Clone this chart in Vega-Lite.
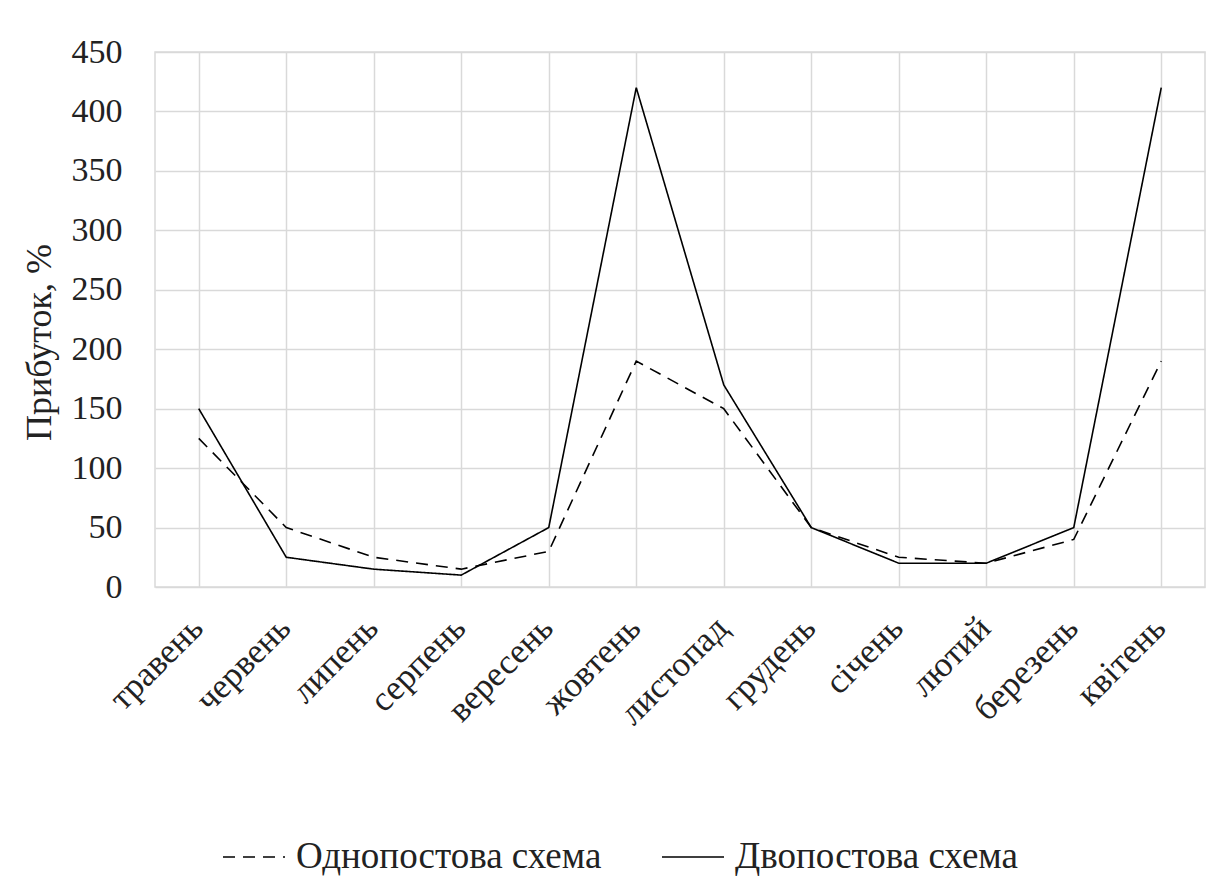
{
  "$schema": "https://vega.github.io/schema/vega-lite/v6.json",
  "width": 1050,
  "height": 535,
  "autosize": "none",
  "padding": {"left": 155, "top": 52, "right": 2, "bottom": 290},
  "background": "white",
  "config": {
    "font": "Liberation Serif",
    "view": {"stroke": "#d9d9d9", "strokeWidth": 1.5}
  },
  "data": {
    "values": [
      {"month": "травень", "scheme": "Однопостова схема", "profit": 125},
      {"month": "червень", "scheme": "Однопостова схема", "profit": 50},
      {"month": "липень", "scheme": "Однопостова схема", "profit": 25},
      {"month": "серпень", "scheme": "Однопостова схема", "profit": 15},
      {"month": "вересень", "scheme": "Однопостова схема", "profit": 30},
      {"month": "жовтень", "scheme": "Однопостова схема", "profit": 190},
      {"month": "листопад", "scheme": "Однопостова схема", "profit": 150},
      {"month": "грудень", "scheme": "Однопостова схема", "profit": 50},
      {"month": "січень", "scheme": "Однопостова схема", "profit": 25},
      {"month": "лютий", "scheme": "Однопостова схема", "profit": 20},
      {"month": "березень", "scheme": "Однопостова схема", "profit": 40},
      {"month": "квітень", "scheme": "Однопостова схема", "profit": 190},
      {"month": "травень", "scheme": "Двопостова схема", "profit": 150},
      {"month": "червень", "scheme": "Двопостова схема", "profit": 25},
      {"month": "липень", "scheme": "Двопостова схема", "profit": 15},
      {"month": "серпень", "scheme": "Двопостова схема", "profit": 10},
      {"month": "вересень", "scheme": "Двопостова схема", "profit": 50},
      {"month": "жовтень", "scheme": "Двопостова схема", "profit": 420},
      {"month": "листопад", "scheme": "Двопостова схема", "profit": 170},
      {"month": "грудень", "scheme": "Двопостова схема", "profit": 50},
      {"month": "січень", "scheme": "Двопостова схема", "profit": 20},
      {"month": "лютий", "scheme": "Двопостова схема", "profit": 20},
      {"month": "березень", "scheme": "Двопостова схема", "profit": 50},
      {"month": "квітень", "scheme": "Двопостова схема", "profit": 420}
    ]
  },
  "mark": {"type": "line", "color": "black", "strokeWidth": 1.6},
  "encoding": {
    "x": {
      "field": "month",
      "type": "nominal",
      "sort": null,
      "scale": {"paddingInner": 0, "paddingOuter": 0},
      "axis": {
        "title": null,
        "bandPosition": 0,
        "grid": true,
        "gridColor": "#d9d9d9",
        "gridWidth": 1.5,
        "domain": false,
        "ticks": false,
        "labelAngle": -45,
        "labelAlign": "right",
        "labelBaseline": "middle",
        "labelFontSize": 35,
        "labelColor": "#222222",
        "labelPadding": 35,
        "labelOffset": -2
      }
    },
    "y": {
      "field": "profit",
      "type": "quantitative",
      "scale": {"domain": [0, 450], "nice": false},
      "axis": {
        "title": "Прибуток, %",
        "titleFontSize": 36,
        "titleFontWeight": "normal",
        "titleColor": "#222222",
        "titleY": 290,
        "titlePadding": 13,
        "values": [0, 50, 100, 150, 200, 250, 300, 350, 400, 450],
        "grid": true,
        "gridColor": "#d9d9d9",
        "gridWidth": 1.5,
        "domain": false,
        "ticks": false,
        "labelFontSize": 34,
        "labelColor": "#222222",
        "labelPadding": 33
      }
    },
    "strokeDash": {
      "field": "scheme",
      "type": "nominal",
      "scale": {
        "domain": ["Однопостова схема", "Двопостова схема"],
        "range": [[12, 8], [1, 0]]
      },
      "legend": {
        "title": null,
        "orient": "none",
        "legendX": 67,
        "legendY": 773,
        "direction": "horizontal",
        "symbolType": "stroke",
        "symbolSize": 3844,
        "symbolStrokeColor": "black",
        "symbolStrokeWidth": 1.6,
        "symbolDash": [12, 9],
        "labelFontSize": 37,
        "labelColor": "#222222",
        "labelOffset": 10,
        "columnPadding": 56,
        "labelLimit": 500
      }
    }
  }
}
